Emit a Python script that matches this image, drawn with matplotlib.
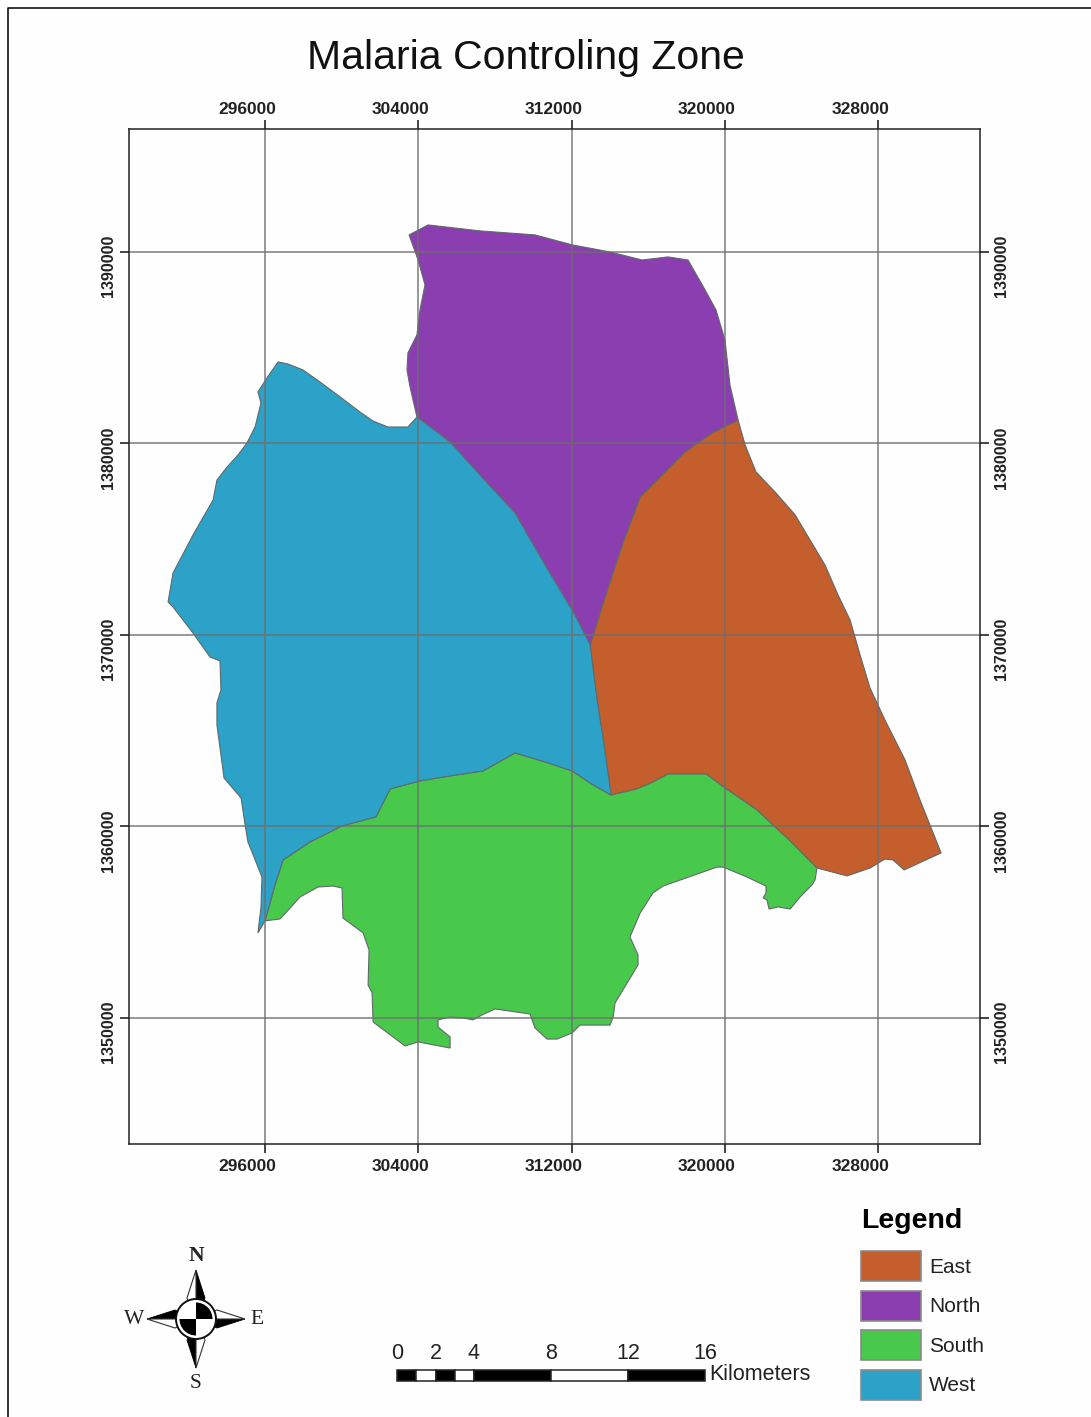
import matplotlib
matplotlib.use("Agg")
import matplotlib.pyplot as plt
from matplotlib.lines import Line2D
from matplotlib.patches import Patch, Circle, Polygon, Wedge
from matplotlib.transforms import ScaledTranslation

W, H = 1091, 1417
TITLE = "Malaria Controling Zone"
ZONES = ["East", "North", "South", "West"]
COLORS = ["#C45E2C", "#8B3EB0", "#49C94B", "#2CA2C8"]
X_TICKS = [296000, 304000, 312000, 320000, 328000]
Y_TICKS = [1350000, 1360000, 1370000, 1380000, 1390000]
SCALE_TICKS = [0, 2, 4, 8, 12, 16]
SCALE_EDGES = [0, 1, 2, 3, 4, 8, 12, 16]

# Boundaries in km of the map grid
nw_x = [303.93, 305.66, 307.22, 309.05, 310.62, 312.18, 312.97]
nw_y = [1381.38, 1380.08, 1378.35, 1376.37, 1373.65, 1371.04, 1369.48]
we_x = [313.33, 313.70, 314.06]
we_y = [1366.61, 1364.26, 1361.64]
ws_x = [312.97, 312.03, 310.62, 309.05, 307.38, 305.66, 304.09, 302.53, 301.79, 300.02, 298.35, 296.94, 296.52, 296.00]
ws_y = [1362.27, 1362.90, 1363.37, 1363.84, 1362.90, 1362.64, 1362.38, 1361.96, 1360.50, 1360.03, 1359.19, 1358.25, 1356.95, 1355.07]
w_x = [295.63, 295.79, 295.84, 295.11, 294.96, 294.75, 293.86, 293.49, 293.49, 293.70, 293.65, 293.13, 292.24, 291.20, 290.94,
       291.20, 292.24, 293.29, 293.49, 294.02, 294.59, 295.06, 295.48, 295.79, 295.63, 296.10, 296.68, 297.20, 297.98, 298.87,
       299.92, 300.96, 301.64, 302.42, 303.46]
w_y = [1354.44, 1355.80, 1357.36, 1359.19, 1360.08, 1361.49, 1362.53, 1365.30, 1366.45, 1367.13, 1368.64, 1368.85, 1370.10, 1371.46, 1371.72,
       1373.24, 1375.22, 1377.05, 1378.09, 1378.77, 1379.40, 1380.03, 1380.86, 1382.11, 1382.69, 1383.42, 1384.26, 1384.15, 1383.84, 1383.21,
       1382.43, 1381.64, 1381.17, 1380.86, 1380.86]
n_x = [303.57, 303.41, 303.46, 303.93, 304.09, 304.35, 303.99, 303.52, 304.51, 307.22, 310.09, 312.03, 314.01, 315.68, 317.04,
       318.08, 318.97, 319.54, 320.01, 320.27, 320.69]
n_y = [1382.95, 1383.84, 1384.73, 1385.67, 1386.97, 1388.28, 1389.58, 1390.89, 1391.41, 1391.10, 1390.89, 1390.37, 1390.00, 1389.58, 1389.74,
       1389.58, 1388.02, 1386.97, 1385.40, 1383.05, 1381.23]
ne_x = [319.33, 317.92, 315.58, 314.64, 313.70, 312.97]
ne_y = [1380.55, 1379.56, 1377.21, 1374.70, 1371.83, 1369.48]
e_x = [321.06, 321.63, 322.62, 323.67, 324.45, 325.23, 325.91, 326.54, 327.06, 327.58, 328.36, 329.41, 330.19, 331.29, 329.36,
       328.78, 328.36, 327.58, 326.38, 324.81]
e_y = [1379.92, 1378.51, 1377.47, 1376.27, 1374.96, 1373.65, 1372.09, 1370.78, 1368.96, 1367.23, 1365.56, 1363.47, 1361.38, 1358.62, 1357.73,
       1358.25, 1358.30, 1357.83, 1357.42, 1357.83]
es_x = [323.25, 322.62, 321.68, 320.01, 319.02, 317.04, 316.25, 315.42, 314.53, 314.06]
es_y = [1359.40, 1359.97, 1360.86, 1362.01, 1362.74, 1362.74, 1362.32, 1361.96, 1361.75, 1361.64]
s_x = [324.71, 324.55, 323.93, 323.41, 322.78, 322.31, 322.20, 322.00, 322.15, 322.15, 321.16, 319.91, 319.59, 316.78, 316.25,
       315.58, 315.05, 315.47, 315.47, 314.27, 314.17, 314.01, 312.44, 312.03, 311.24, 310.72, 310.09, 309.83, 308.01, 307.33,
       306.86, 306.34, 305.66, 305.03, 305.03, 305.66, 305.66, 303.99, 303.31, 301.64, 301.59, 301.38, 301.43, 301.12, 300.07,
       300.02, 299.55, 298.77, 297.83, 297.31, 296.78]
s_y = [1357.21, 1356.95, 1356.32, 1355.69, 1355.80, 1355.69, 1356.16, 1356.27, 1356.53, 1356.89, 1357.36, 1357.88, 1357.88, 1356.89, 1356.53,
       1355.48, 1354.23, 1353.29, 1352.77, 1350.78, 1350.05, 1349.63, 1349.63, 1349.22, 1348.90, 1348.90, 1349.48, 1350.21, 1350.47, 1350.16,
       1349.90, 1350.00, 1350.05, 1349.90, 1349.53, 1349.01, 1348.43, 1348.75, 1348.54, 1349.79, 1351.31, 1351.72, 1353.55, 1354.44, 1355.22,
       1356.79, 1356.89, 1356.84, 1356.32, 1355.74, 1355.17]

SANS = ["Liberation Sans", "DejaVu Sans"]
SERIF = ["Liberation Serif", "DejaVu Serif"]
plt.rcParams["font.family"] = SANS


def px_axes(x0, y0, x1, y1, **kw):
    return fig.add_axes([x0 / W, 1 - y1 / H, (x1 - x0) / W, (y1 - y0) / H], **kw)


fig = plt.figure(figsize=(W / 100, H / 100), dpi=100, facecolor="#FEFEFE")
fig.add_artist(Line2D([7.5 / W, 7.5 / W, 1], [0, 1 - 7.5 / H, 1 - 7.5 / H], transform=fig.transFigure,
                      color="black", linewidth=1.1))

ax = px_axes(129, 129, 980, 1144)
ax.set_facecolor("#FEFEFE")
ax.set_xlim(288900, 333320)
ax.set_ylim(1343420, 1396420)

rings = {
    "West": (w_x + nw_x + we_x + ws_x, w_y + nw_y + we_y + ws_y),
    "North": (nw_x[:1] + n_x + ne_x + nw_x[::-1][1:], nw_y[:1] + n_y + ne_y + nw_y[::-1][1:]),
    "East": ([n_x[-1]] + e_x + es_x + we_x[::-1] + ne_x[::-1], [n_y[-1]] + e_y + es_y + we_y[::-1] + ne_y[::-1]),
    "South": (e_x[-1:] + s_x + ws_x[::-1] + es_x[::-1], e_y[-1:] + s_y + ws_y[::-1] + es_y[::-1]),
}
for zone, color in zip(ZONES, COLORS):
    xs, ys = rings[zone]
    ax.fill([v * 1000 for v in xs], [v * 1000 for v in ys], facecolor=color, edgecolor="#5f6a6a", linewidth=0.8, zorder=2)

ax.grid(True, color="#6e6e6e", linewidth=1.1, alpha=0.9, zorder=3)
ax.set_axisbelow(False)
ax.set_xticks(X_TICKS)
ax.set_yticks(Y_TICKS)
ax.set_xticklabels([str(v) for v in X_TICKS], fontsize=12.5, fontweight="bold", color="#222222")
ax.set_yticklabels([str(v) for v in Y_TICKS], fontsize=11.5, fontweight="bold", color="#222222", rotation=90, va="center")
ax.tick_params(top=True, right=True, labeltop=True, labelright=True, length=6.5, width=1.1, pad=3, color="#111111")
for s in ax.spines.values():
    s.set_linewidth(1.1)
    s.set_color("#222222")
    s.set_zorder(4)
dx = ScaledTranslation(-18 / 100, -1.5 / 100, fig.dpi_scale_trans)
dy = ScaledTranslation(0.5 / 100, -14 / 100, fig.dpi_scale_trans)
for t in ax.get_xticklabels():
    t.set_transform(t.get_transform() + dx)
for t in ax.get_yticklabels():
    t.set_transform(t.get_transform() + dy)

fig.text(526 / W, 1 - 58 / H, TITLE, ha="center", va="center", fontsize=29.5, color="#111111")

# Legend
handles = [Patch(facecolor=c, edgecolor="#8a8a8a", linewidth=1.2, label=z) for z, c in zip(ZONES, COLORS)]
leg = fig.legend(handles=handles, loc="upper left", bbox_to_anchor=(861 / W, 1 - 1208 / H), bbox_transform=fig.transFigure,
                 frameon=False, fontsize=15, title="Legend", alignment="left",
                 title_fontproperties={"size": 20.5, "weight": "bold"},
                 handlelength=2.88, handleheight=1.84, labelspacing=0.45, handletextpad=0.38,
                 borderpad=0, borderaxespad=0)
leg._legend_box.sep = 12.5
for t in leg.get_texts():
    t.set_color("#222222")

# Scale bar
sb = px_axes(397, 1370, 705, 1381)
sb.set_xlim(SCALE_EDGES[0], SCALE_EDGES[-1])
sb.set_ylim(0, 1)
for i, (a, b) in enumerate(zip(SCALE_EDGES[:-1], SCALE_EDGES[1:])):
    sb.barh(0.5, b - a, left=a, height=1, color="black" if i % 2 == 0 else "white", edgecolor="#222222", linewidth=1.1,
            clip_on=False)
sb.set_xticks(SCALE_TICKS)
sb.set_xticklabels([str(v) for v in SCALE_TICKS], fontsize=15.5, color="#222222")
sb.set_yticks([])
sb.tick_params(axis="x", bottom=False, top=False, labelbottom=False, labeltop=True, length=0, pad=4.5)
for s in sb.spines.values():
    s.set_visible(False)
fig.text(709 / W, 1 - 1375 / H, "Kilometers", ha="left", va="center", fontsize=15.5, color="#222222")

# North arrow, in pixels from the rose centre
na = px_axes(119, 1242, 273, 1396)
na.set_xlim(-77, 77)
na.set_ylim(-77, 77)
na.set_aspect("equal")
na.axis("off")
TIP, BASE, HALF = 49, 21, 9
for ux, uy in [(0, 1), (1, 0), (0, -1), (-1, 0)]:
    px, py = uy, -ux  # right-hand normal of the spike direction
    tip = (ux * TIP, uy * TIP)
    mid = (ux * BASE, uy * BASE)
    right = (mid[0] + px * HALF, mid[1] + py * HALF)
    left = (mid[0] - px * HALF, mid[1] - py * HALF)
    na.add_patch(Polygon([tip, right, (0, 0)], closed=True, facecolor="black", edgecolor="black", linewidth=0.6))
    na.add_patch(Polygon([tip, left, (0, 0)], closed=True, facecolor="white", edgecolor="#333333", linewidth=0.8))
na.add_patch(Circle((0, 0), 20, facecolor="white", edgecolor="#111111", linewidth=1.4, zorder=3))
na.add_patch(Wedge((0, 0), 16.5, 0, 90, facecolor="black", edgecolor="none", zorder=4))
na.add_patch(Wedge((0, 0), 16.5, 180, 270, facecolor="black", edgecolor="none", zorder=4))
for s, x, y, wt in [("N", 0, 63, "bold"), ("S", 0, -65, "normal"), ("W", -62, 0, "normal"), ("E", 61, 0, "normal")]:
    na.text(x, y, s, ha="center", va="center", fontsize=15.5, fontweight=wt, family=SERIF, color="#222222")

fig.savefig("out.png", dpi=100, facecolor=fig.get_facecolor())
